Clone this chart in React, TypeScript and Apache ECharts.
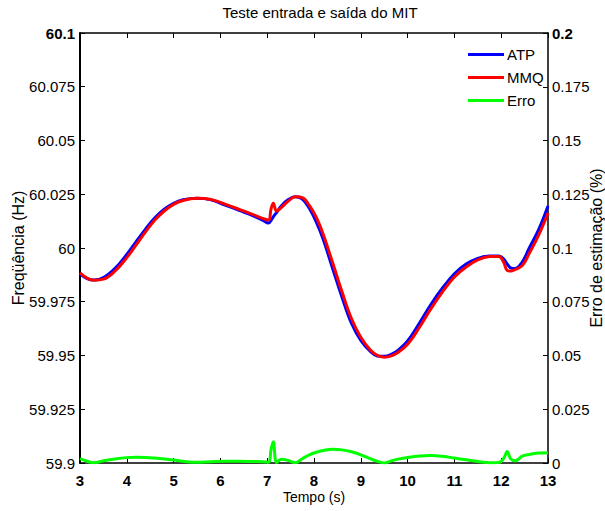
import React, { useEffect, useRef } from "react";
import * as echarts from "echarts";

const titleText = "Teste entrada e saída do MIT";
const seriesNames = ["ATP", "MMQ", "Erro"];

const time = [
  3.0, 3.15, 3.3, 3.5, 3.75, 4.0, 4.2, 4.4, 4.6, 4.8, 5.0, 5.2, 5.5, 5.8, 6.1, 6.4, 6.7, 6.9,
  7.03, 7.08, 7.13, 7.2, 7.3, 7.45, 7.6, 7.75, 7.9, 8.05, 8.2, 8.4, 8.6, 8.8, 9.0, 9.2, 9.35,
  9.5, 9.65, 9.8, 10.0, 10.25, 10.5, 10.75, 11.0, 11.25, 11.5, 11.75, 11.95, 12.05, 12.13,
  12.2, 12.3, 12.45, 12.6, 12.8, 13.0,
];

const atp = [
  59.988, 59.9858, 59.9851, 59.9862, 59.9905, 59.997, 60.003, 60.0088, 60.014, 60.018, 60.0208,
  60.0224, 60.0231, 60.0224, 60.02, 60.0175, 60.015, 60.013, 60.0116, 60.0128, 60.0145, 60.0165,
  60.0195, 60.0225, 60.0238, 60.0228, 60.0185, 60.012, 60.0038, 59.9903, 59.977, 59.965, 59.957,
  59.952, 59.9498, 59.9496, 59.9505, 59.9525, 59.9568, 59.965, 59.9738, 59.9815, 59.988,
  59.9925, 59.9952, 59.9963, 59.9963, 59.995, 59.9925, 59.9908, 59.9905, 59.9935, 60.0,
  60.0085, 60.0195,
];

const mmq = [
  59.9885, 59.986, 59.985, 59.9855, 59.9893, 59.9955, 60.0015, 60.0075, 60.013, 60.0172,
  60.0203, 60.0221, 60.0231, 60.0226, 60.0204, 60.018, 60.0155, 60.0138, 60.013, 60.018,
  60.0208, 60.0172, 60.0188, 60.0218, 60.0238, 60.0234, 60.0198, 60.0142, 60.0062, 59.993,
  59.9795, 59.9672, 59.9585, 59.9527, 59.9501, 59.9492, 59.9498, 59.9515, 59.9552, 59.963,
  59.9718, 59.9797, 59.9865, 59.9912, 59.9945, 59.996, 59.9961, 59.9935, 59.9895, 59.9893,
  59.99, 59.9918, 59.9975, 60.006, 60.0162,
];

const erro = [
  0.002, 0.0008, 0.0001, 0.001, 0.0019, 0.0025, 0.0027, 0.0026, 0.0023, 0.0019, 0.0014, 0.0008,
  0.0003, 0.0006, 0.0008, 0.0008, 0.0007, 0.0006, 0.0004, 0.006, 0.0099, 0.0002, 0.0018,
  0.0012, 0.0001, 0.002, 0.0038, 0.005, 0.0058, 0.0064, 0.0061, 0.0052, 0.0038, 0.002, 0.0008,
  0.0, 0.001, 0.0018, 0.0026, 0.0033, 0.0035, 0.0031, 0.0023, 0.0015, 0.0007, 0.0001, 0.0002,
  0.002, 0.0053, 0.002, 0.001, 0.0032, 0.004, 0.0046, 0.0048,
];

const FONT = "Liberation Sans, Arial, Helvetica, sans-serif";

function fmt(v: number) {
  return String(parseFloat(v.toFixed(3)));
}

export default function App() {
  const ref = useRef<HTMLDivElement>(null);
  useEffect(() => {
    if (!ref.current) return;
    document.documentElement.style.overflow = "hidden";
    document.body.style.overflow = "hidden";
    document.body.style.margin = "0";
    const chart = echarts.init(ref.current, null, { renderer: "svg", width: 605, height: 511 });
    const axisLine = { show: true, lineStyle: { color: "#000", width: 1.5 } };
    const axisTick = { show: true, inside: true, length: 5, lineStyle: { color: "#000", width: 1 } };
    const labelBase = { color: "#000", fontFamily: FONT, fontSize: 15 };
    chart.setOption({
      animation: false,
      backgroundColor: "#fff",
      title: {
        text: titleText,
        left: 315,
        top: 0,
        textAlign: "center",
        textStyle: { color: "#000", fontFamily: FONT, fontSize: 15, fontWeight: "normal" },
      },
      legend: {
        orient: "vertical",
        left: 463,
        top: 42,
        itemWidth: 36,
        itemHeight: 3,
        itemGap: 8,
        icon: "rect",
        textStyle: { color: "#000", fontFamily: FONT, fontSize: 15, padding: [0, 0, 0, -2] },
        data: seriesNames,
      },
      grid: { left: 80, right: 57, top: 33, bottom: 48, containLabel: false, outerBoundsMode: "none" },
      xAxis: [
        {
          type: "value",
          position: "bottom",
          min: 3,
          max: 13,
          interval: 1,
          axisLine,
          axisTick,
          splitLine: { show: false },
          axisLabel: { ...labelBase, fontWeight: "bold", margin: 10 },
          name: "Tempo (s)",
          nameLocation: "middle",
          nameGap: 27,
          nameMoveOverlap: false,
          nameTextStyle: { color: "#000", fontFamily: FONT, fontSize: 14 },
        },
        {
          type: "value",
          position: "top",
          min: 3,
          max: 13,
          interval: 1,
          axisLine,
          axisTick,
          splitLine: { show: false },
          axisLabel: { show: false },
        },
      ],
      yAxis: [
        {
          type: "value",
          position: "left",
          min: 59.9,
          max: 60.1,
          interval: 0.025,
          axisLine: { show: true, lineStyle: { color: "#000", width: 2 } },
          axisTick,
          splitLine: { show: false },
          axisLabel: {
            ...labelBase,
            margin: 5,
            formatter: (v: number) => (Math.abs(v - 60.1) < 1e-6 ? "{b|" + fmt(v) + "}" : fmt(v)),
            rich: { b: { ...labelBase, fontWeight: "bold" } },
          },
          name: "Freqüência (Hz)",
          nameLocation: "middle",
          nameGap: 54,
          nameMoveOverlap: false,
          nameTextStyle: { color: "#000", fontFamily: FONT, fontSize: 16 },
        },
        {
          type: "value",
          position: "right",
          min: 0,
          max: 0.2,
          interval: 0.025,
          axisLine,
          axisTick,
          splitLine: { show: false },
          axisLabel: {
            ...labelBase,
            margin: 4,
            formatter: (v: number) => (Math.abs(v - 0.2) < 1e-9 ? "{b|" + fmt(v) + "}" : fmt(v)),
            rich: { b: { ...labelBase, fontWeight: "bold" } },
          },
          name: "Erro de estimação (%)",
          nameLocation: "middle",
          nameGap: 40,
          nameMoveOverlap: false,
          nameTextStyle: { color: "#000", fontFamily: FONT, fontSize: 16 },
        },
      ],
      series: [
        {
          name: seriesNames[0],
          type: "line",
          xAxisIndex: 0,
          yAxisIndex: 0,
          data: time.map((t, i) => [t, atp[i]]),
          showSymbol: false,
          smooth: 0.4,
          lineStyle: { color: "#0000ff", width: 3 },
          itemStyle: { color: "#0000ff" },
        },
        {
          name: seriesNames[1],
          type: "line",
          xAxisIndex: 0,
          yAxisIndex: 0,
          data: time.map((t, i) => [t, mmq[i]]),
          showSymbol: false,
          smooth: 0.4,
          lineStyle: { color: "#ff0000", width: 3 },
          itemStyle: { color: "#ff0000" },
        },
        {
          name: seriesNames[2],
          type: "line",
          xAxisIndex: 0,
          yAxisIndex: 1,
          data: time.map((t, i) => [t, erro[i]]),
          showSymbol: false,
          smooth: 0.4,
          lineStyle: { color: "#00ff00", width: 3 },
          itemStyle: { color: "#00ff00" },
        },
      ],
    });
    return () => chart.dispose();
  }, []);
  return <div ref={ref} style={{ width: 605, height: 511, position: "absolute", left: 0, top: 0 }} />;
}
